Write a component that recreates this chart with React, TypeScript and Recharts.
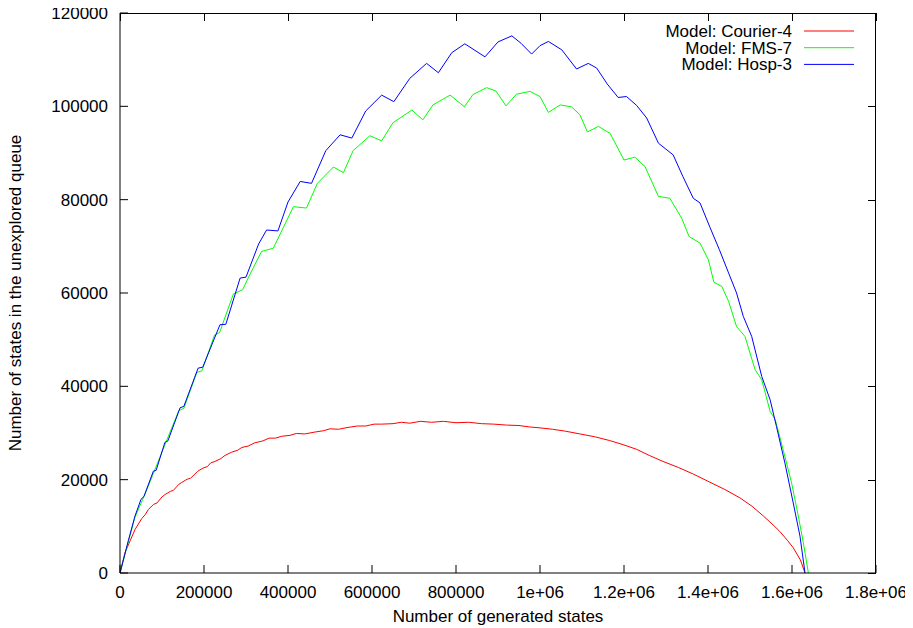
import { LineChart, Line, XAxis, YAxis, Label } from "recharts"

// values: [generated states, states in queue]
const courier4: [number, number][] = [
  [0, 0], [12000, 4400], [35700, 9300], [52000, 11700], [60000, 12500],
  [67400, 13600], [80000, 14700], [88000, 15000], [100000, 16300], [107000, 16800],
  [120000, 17500], [127000, 17700], [140000, 19000], [147000, 19400], [160000, 20100],
  [168000, 20300], [185000, 21800], [198000, 22500], [208000, 22800], [216000, 23600],
  [226000, 23900], [240000, 24500], [250000, 25200], [266000, 25900], [280000, 26300],
  [290000, 26900], [305000, 27200], [321000, 27900], [340000, 28300], [355000, 28900],
  [370000, 28900], [385000, 29300], [405000, 29500], [420000, 29900], [440000, 29800],
  [464000, 30200], [485000, 30500], [500000, 30900], [520000, 30800], [543000, 31200],
  [565000, 31500], [585000, 31500], [605000, 31900], [623000, 31900], [650000, 32000],
  [670000, 32300], [690000, 32100], [715000, 32500], [742000, 32300], [770000, 32500],
  [800000, 32200], [830000, 32300], [861000, 32000], [890000, 31900], [920000, 31700],
  [950000, 31600], [975000, 31300], [1000000, 31100], [1030000, 30800], [1060000, 30400],
  [1095000, 29800], [1130000, 29200], [1165000, 28400], [1198000, 27500], [1230000, 26500],
  [1260000, 25200], [1293000, 23900], [1330000, 22600], [1365000, 21200], [1399000, 19700],
  [1440000, 17900], [1476000, 16100], [1505000, 14300], [1532000, 12200], [1555000, 10300],
  [1571000, 8900], [1590000, 6900], [1603000, 5400], [1620000, 2800], [1631000, 0],
]

const fms7: [number, number][] = [
  [0, 0], [35700, 12000], [60000, 17000], [79300, 21300], [107000, 27500],
  [140000, 34800], [152000, 35300], [183000, 43000], [195000, 43300],
  [225000, 51000], [237000, 51500], [270000, 59800], [292000, 60700],
  [305000, 63200], [337000, 68900], [365000, 69600], [413000, 78500],
  [444000, 78200], [470000, 83500], [508000, 87000], [532000, 85800],
  [555000, 90500], [595000, 93700], [623000, 92600], [650000, 96500],
  [695000, 99200], [721000, 97100], [745000, 100300], [786000, 102400],
  [820000, 99900], [840000, 102500], [873000, 104000], [895000, 103300],
  [919000, 100100], [944000, 102600], [976000, 103200], [1000000, 102100],
  [1020000, 98700], [1048000, 100300], [1075000, 99900], [1095000, 98200],
  [1113000, 94500], [1139000, 95700], [1167000, 94200], [1200000, 88500],
  [1226000, 89100], [1250000, 87100], [1282000, 80700], [1309000, 80300],
  [1337000, 76100], [1355000, 72100], [1381000, 70700], [1401000, 67100],
  [1414000, 62300], [1433000, 61400], [1449000, 58200], [1468000, 52800],
  [1488000, 50700], [1512000, 43600], [1528000, 41400], [1548000, 34600],
  [1560000, 32900], [1579000, 26400], [1599000, 19300], [1615000, 12200],
  [1627000, 6500], [1639000, 0],
]

const hosp3: [number, number][] = [
  [0, 0], [20000, 7000], [35700, 12200], [50000, 15800], [57000, 16400],
  [79300, 21800], [86000, 22000], [107000, 28000], [114000, 28300],
  [143000, 35400], [152000, 35700], [186000, 43900], [197000, 44100],
  [238000, 53200], [252000, 53300], [286000, 63200], [300000, 63400],
  [330000, 70500], [349000, 73500], [376000, 73300], [400000, 79500],
  [429000, 83900], [456000, 83500], [490000, 90500], [524000, 93900],
  [552000, 93200], [585000, 99000], [623000, 102400], [652000, 101000],
  [690000, 106000], [730000, 109200], [758000, 107200], [790000, 111500],
  [821000, 113400], [869000, 110600], [900000, 113800], [933000, 115100],
  [955000, 113500], [980000, 111200], [1000000, 113000], [1020000, 113900],
  [1052000, 112100], [1087000, 108000], [1115000, 109200], [1135000, 108200],
  [1160000, 104800], [1186000, 101900], [1206000, 102100], [1230000, 100200],
  [1254000, 97500], [1282000, 92100], [1317000, 89600], [1340000, 85000],
  [1365000, 80300], [1381000, 79300], [1405000, 74000], [1427000, 69300],
  [1449000, 64300], [1468000, 60000], [1484000, 55000], [1504000, 50700],
  [1528000, 42100], [1548000, 37100], [1563000, 31400], [1583000, 23600],
  [1603000, 15000], [1619000, 7900], [1631000, 0],
]

const xTicks = [0, 200000, 400000, 600000, 800000, 1000000, 1200000, 1400000, 1600000, 1800000]
const xTickLabels = ["0", "200000", "400000", "600000", "800000", "1e+06", "1.2e+06", "1.4e+06", "1.6e+06", "1.8e+06"]
const yTicks = [0, 20000, 40000, 60000, 80000, 100000, 120000]

const X_MAX = 1800000
const Y_MAX = 120000

const series = [
  { name: "Model: Courier-4", color: "#ff0000", points: courier4 },
  { name: "Model: FMS-7", color: "#00ff00", points: fms7 },
  { name: "Model: Hosp-3", color: "#0000ff", points: hosp3 },
]

const FONT = "'Liberation Sans', Arial, sans-serif"
const TICK = 8

// chart layout
const W = 905
const H = 620
const MARGIN = { top: 5, right: 37, bottom: 25, left: 52 }
const Y_AXIS_W = 60
const X_AXIS_H = 30
const PLOT = {
  left: MARGIN.left + Y_AXIS_W,
  top: MARGIN.top,
  right: W - MARGIN.right,
  bottom: H - MARGIN.bottom - X_AXIS_H,
}

const toRows = (pts: [number, number][]) => pts.map(([x, y]) => ({ x, y }))

function BottomTick({ x, y, payload }: any) {
  const label = xTickLabels[xTicks.indexOf(payload.value)]
  return (
    <g>
      <line x1={x} y1={y} x2={x} y2={y - TICK} stroke="#000" />
      <text x={x} y={y + 25} textAnchor="middle" fontFamily={FONT} fontSize={17} fill="#000">
        {label}
      </text>
    </g>
  )
}

function LeftTick({ x, y, payload }: any) {
  return (
    <g>
      <line x1={x} y1={y} x2={x + TICK} y2={y} stroke="#000" />
      <text x={x - 12} y={y + 6} textAnchor="end" fontFamily={FONT} fontSize={17} fill="#000">
        {payload.value}
      </text>
    </g>
  )
}

// top and right border with mirrored inward ticks (gnuplot style)
function MirrorBorder() {
  const pw = PLOT.right - PLOT.left
  const ph = PLOT.bottom - PLOT.top
  const box: React.CSSProperties = { position: "absolute", background: "#000", pointerEvents: "none" }
  return (
    <>
      <div style={{ ...box, left: PLOT.left, top: PLOT.top, width: pw, height: 1 }} />
      <div style={{ ...box, left: PLOT.right - 1, top: PLOT.top, width: 1, height: ph }} />
      {xTicks.map((t) => (
        <div
          key={`tx${t}`}
          style={{ ...box, left: Math.round(PLOT.left + (t / X_MAX) * pw) - 0.5, top: PLOT.top, width: 1, height: TICK }}
        />
      ))}
      {yTicks.map((t) => (
        <div
          key={`ty${t}`}
          style={{ ...box, left: PLOT.right - TICK, top: Math.round(PLOT.bottom - (t / Y_MAX) * ph) - 0.5, width: TICK, height: 1 }}
        />
      ))}
    </>
  )
}

export default function App() {
  return (
    <div style={{ position: "relative", width: W, height: H }}>
      <LineChart width={W} height={H} margin={MARGIN}>
        <XAxis
          dataKey="x"
          type="number"
          domain={[0, X_MAX]}
          allowDataOverflow
          ticks={xTicks}
          interval={0}
          height={X_AXIS_H}
          tickSize={0}
          tickMargin={0}
          tickLine={false}
          tick={BottomTick}
          axisLine={{ stroke: "#000" }}
        >
          <Label
            content={() => (
              <text x={490} y={614} textAnchor="middle" fontFamily={FONT} fontSize={17} fill="#000">
                Number of generated states
              </text>
            )}
          />
        </XAxis>
        <YAxis
          type="number"
          domain={[0, Y_MAX]}
          allowDataOverflow
          ticks={yTicks}
          interval={0}
          width={Y_AXIS_W}
          tickSize={0}
          tickMargin={0}
          tickLine={false}
          tick={LeftTick}
          axisLine={{ stroke: "#000" }}
        >
          <Label
            content={() => (
              <text
                x={13}
                y={285}
                transform="rotate(-90, 13, 285)"
                textAnchor="middle"
                fontFamily={FONT}
                fontSize={17}
                fill="#000"
              >
                Number of states in the unexplored queue
              </text>
            )}
          />
        </YAxis>
        {series.map((s) => (
          <Line
            key={s.name}
            data={toRows(s.points)}
            dataKey="y"
            name={s.name}
            stroke={s.color}
            strokeWidth={1}
            dot={false}
            activeDot={false}
            type="linear"
            isAnimationActive={false}
          />
        ))}
      </LineChart>
      <MirrorBorder />
      <svg width={W} height={H} style={{ position: "absolute", left: 0, top: 0, pointerEvents: "none" }}>
        {series.map((s, i) => {
          const cy = 23 + i * 16.7
          return (
            <g key={s.name}>
              <text x={784} y={cy + 6} textAnchor="end" fontFamily={FONT} fontSize={17} fill="#000">
                {s.name}
              </text>
              <line x1={796} y1={cy} x2={846} y2={cy} stroke={s.color} />
            </g>
          )
        })}
      </svg>
    </div>
  )
}
